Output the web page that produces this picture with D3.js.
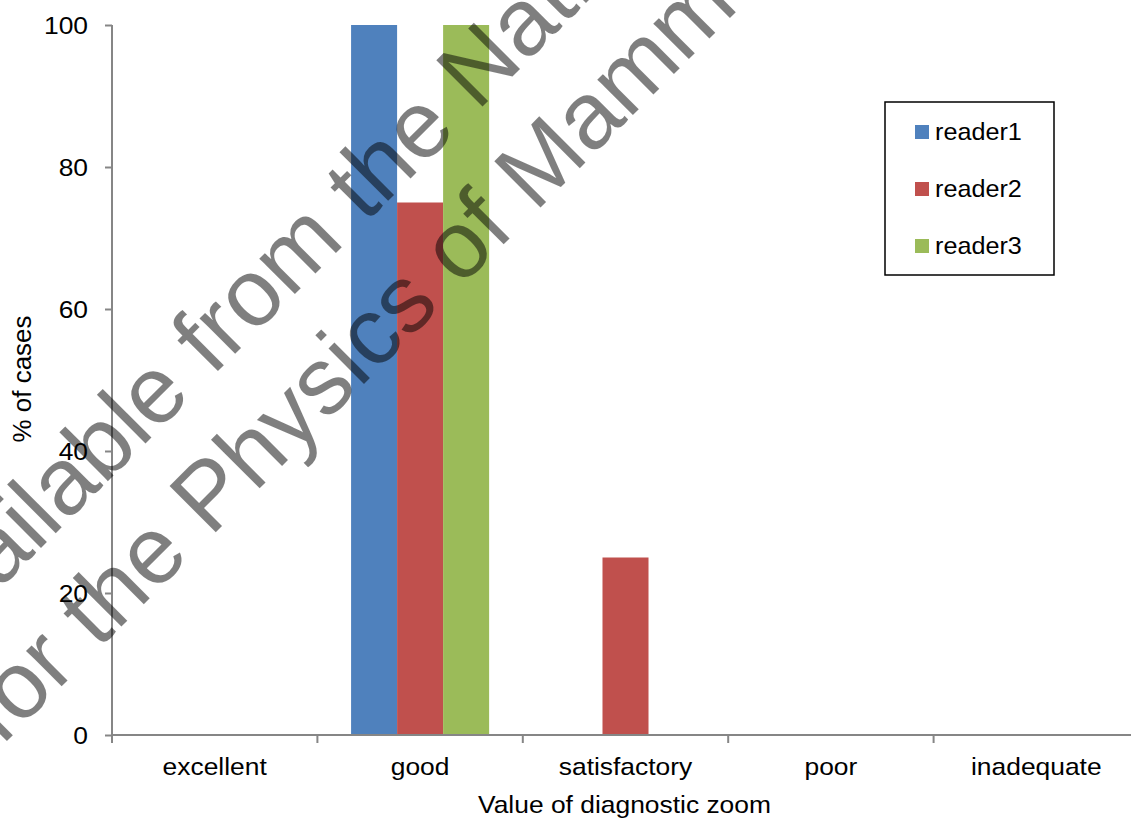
<!DOCTYPE html>
<html>
<head>
<meta charset="utf-8">
<script src="https://cdn.jsdelivr.net/npm/d3@7"></script>
<style>
  html, body { margin: 0; padding: 0; background: #fff; }
  svg { display: block; font-family: "Liberation Sans", Arial, sans-serif; }
</style>
</head>
<body>
<svg id="chart" width="1131" height="820"></svg>
<script>
// Rating categories along the x axis
const categories = ["excellent", "good", "satisfactory", "poor", "inadequate"];
// One entry per reader
const seriesNames = ["reader1", "reader2", "reader3"];
const reader1 = [0, 100, 0, 0, 0];
const reader2 = [0, 75, 25, 0, 0];
const reader3 = [0, 100, 0, 0, 0];
const seriesValues = [reader1, reader2, reader3];
const seriesColors = ["#4F81BD", "#C0504D", "#9BBB59"];
const yTicks = [0, 20, 40, 60, 80, 100];
const yTitle = "% of cases";
const xTitle = "Value of diagnostic zoom";
const stampLines = [
  "Available from the National Co-ordinating Centre",
  "for the Physics of Mammography"
];

const svg = d3.select("#chart");
const axisColor = "#868686";
const fontSize = 24;
const stretch = 1.1;

const x0 = d3.scaleBand().domain(categories).range([112, 1139]).padding(0);
const x1 = d3.scaleBand().domain(seriesNames)
  .range([0, x0.bandwidth()]).paddingInner(0).paddingOuter(0.732);
const y = d3.scaleLinear().domain([0, 100]).range([735, 25]);

// Bars
const rows = [];
seriesNames.forEach((s, si) => {
  categories.forEach((c, ci) => rows.push({ s, c, v: seriesValues[si][ci], color: seriesColors[si] }));
});
svg.append("g").selectAll("rect")
  .data(rows.filter(d => d.v > 0))
  .join("rect")
  .attr("x", d => x0(d.c) + x1(d.s))
  .attr("y", d => y(d.v))
  .attr("width", x1.bandwidth())
  .attr("height", d => y(0) - y(d.v))
  .attr("fill", d => d.color);

// Y axis
const gy = svg.append("g").attr("transform", "translate(112,0)")
  .call(d3.axisLeft(y).tickValues(yTicks).tickSize(7).tickPadding(0).tickFormat(d3.format("d")));
gy.select(".domain").attr("stroke", axisColor).attr("stroke-width", 2).attr("d", `M0,${y(100)}V${y(0)}`);
gy.selectAll(".tick line").attr("stroke", axisColor).attr("stroke-width", 2);
gy.selectAll(".tick text").remove();
gy.selectAll(".tick").append("text")
  .attr("transform", `translate(-24,0) scale(${stretch},1)`)
  .attr("text-anchor", "end").attr("dy", "0.35em")
  .attr("font-size", fontSize).attr("fill", "#000")
  .text(d => d);

// X axis: ticks at band boundaries
const boundaries = categories.map(c => x0(c)).concat([x0.range()[1]]);
const gx = svg.append("g");
gx.append("line").attr("x1", 111).attr("x2", 1131).attr("y1", y(0)).attr("y2", y(0))
  .attr("stroke", axisColor).attr("stroke-width", 2);
gx.selectAll("line.tk").data(boundaries).join("line").attr("class", "tk")
  .attr("x1", d => d).attr("x2", d => d).attr("y1", y(0)).attr("y2", y(0) + 8)
  .attr("stroke", axisColor).attr("stroke-width", 2);
gx.selectAll("text").data(categories).join("text")
  .attr("transform", d => `translate(${x0(d) + x0.bandwidth() / 2},775) scale(${stretch},1)`)
  .attr("text-anchor", "middle").attr("font-size", fontSize).attr("fill", "#000")
  .text(d => d);

// Axis titles
svg.append("text")
  .attr("transform", `translate(${x0.range()[0] + (1138 - 112) / 2 - 0.5},813) scale(${stretch},1)`)
  .attr("text-anchor", "middle").attr("font-size", fontSize).attr("fill", "#000")
  .text(xTitle);
svg.append("text")
  .attr("transform", `translate(31,379) rotate(-90) scale(1.08,1.1)`)
  .attr("text-anchor", "middle").attr("font-size", fontSize).attr("fill", "#000")
  .text(yTitle);

// Legend
const lg = svg.append("g");
lg.append("rect").attr("x", 885).attr("y", 102).attr("width", 169).attr("height", 173)
  .attr("fill", "#fff").attr("stroke", "#000").attr("stroke-width", 1.5);
const legendY = d3.scalePoint().domain(seriesNames).range([132, 246]);
const items = lg.selectAll("g.item").data(seriesNames).join("g").attr("class", "item")
  .attr("transform", d => `translate(915,${legendY(d)})`);
items.append("rect").attr("x", 0).attr("y", -7).attr("width", 14).attr("height", 14)
  .attr("fill", (d, i) => seriesColors[i]);
items.append("text")
  .attr("transform", `translate(20,0) scale(1.05,1)`)
  .attr("dy", "0.35em").attr("font-size", fontSize).attr("fill", "#000")
  .text(d => d);

// Diagonal stamp across the plot
const stamp = svg.append("g").attr("fill", "#000").attr("fill-opacity", 0.5);
const stampSize = 95;
function placeStamp(str, letter, tx, ty) {
  const t = stamp.append("text").attr("font-size", stampSize).text(str);
  const idx = str.indexOf(letter);
  const adv = t.node().getSubStringLength(0, idx) + 0.075 * stampSize;
  const ox = tx - adv * Math.SQRT1_2;
  const oy = ty + adv * Math.SQRT1_2;
  t.attr("transform", `translate(${ox},${oy}) rotate(-45)`);
}
placeStamp(stampLines[0], "N", 482, 107);
placeStamp(stampLines[1], "M", 540, 208);
</script>
</body>
</html>
